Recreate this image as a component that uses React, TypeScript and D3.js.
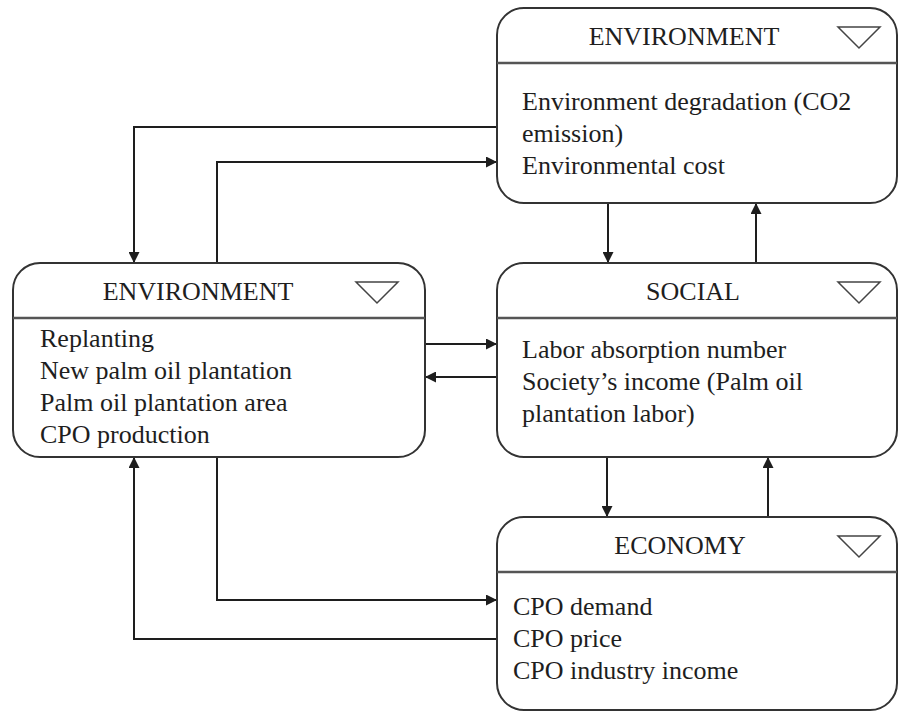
import { useEffect, useRef } from "react";
import * as d3 from "d3";

// box contents
const boxIds = ["envTop", "envLeft", "social", "economy"];
const boxTitles = ["ENVIRONMENT", "ENVIRONMENT", "SOCIAL", "ECONOMY"];
const envTopItems = ["Environment degradation (CO2", "emission)", "Environmental cost"];
const envLeftItems = ["Replanting", "New palm oil plantation", "Palm oil plantation area", "CPO production"];
const socialItems = ["Labor absorption number", "Society\u2019s income (Palm oil", "plantation labor)"];
const economyItems = ["CPO demand", "CPO price", "CPO industry income"];
const boxItems = [envTopItems, envLeftItems, socialItems, economyItems];

// links between boxes: [from, to]
const links: [string, string][] = [
  ["envTop", "envLeft"],
  ["envLeft", "envTop"],
  ["envTop", "social"],
  ["social", "envTop"],
  ["envLeft", "social"],
  ["social", "envLeft"],
  ["social", "economy"],
  ["economy", "social"],
  ["envLeft", "economy"],
  ["economy", "envLeft"],
];

// layout (pixels)
const layout: Record<string, { x: number; y: number; w: number; h: number; head: number; titleX: number; textX: number; firstLine: number; tri: number }> = {
  envTop: { x: 497, y: 8, w: 400, h: 195, head: 55, titleX: 684, textX: 522, firstLine: 110, tri: 838 },
  envLeft: { x: 13, y: 263, w: 412, h: 194, head: 55, titleX: 198, textX: 40, firstLine: 347, tri: 356 },
  social: { x: 497, y: 263, w: 400, h: 194, head: 55, titleX: 693, textX: 522, firstLine: 358, tri: 838 },
  economy: { x: 497, y: 517, w: 400, h: 193, head: 55, titleX: 680, textX: 513, firstLine: 615, tri: 838 },
};

const routes: Record<string, [number, number][]> = {
  "envTop>envLeft": [[497, 127], [134, 127], [134, 263]],
  "envLeft>envTop": [[217, 263], [217, 162], [497, 162]],
  "envTop>social": [[608, 203], [608, 263]],
  "social>envTop": [[756, 263], [756, 203]],
  "envLeft>social": [[425, 344], [497, 344]],
  "social>envLeft": [[497, 377], [425, 377]],
  "social>economy": [[607, 457], [607, 517]],
  "economy>social": [[768, 517], [768, 457]],
  "envLeft>economy": [[217, 457], [217, 600], [497, 600]],
  "economy>envLeft": [[497, 639], [134, 639], [134, 457]],
};

const App = () => {
  const ref = useRef<SVGSVGElement>(null);

  useEffect(() => {
    const svg = d3.select(ref.current);
    svg.selectAll("*").remove();
    const font = "'Liberation Serif', 'Times New Roman', serif";
    const ink = "#1e1e1e";

    svg
      .append("defs")
      .append("marker")
      .attr("id", "arrow")
      .attr("viewBox", "0 0 10 10")
      .attr("refX", 10)
      .attr("refY", 5)
      .attr("markerWidth", 13)
      .attr("markerHeight", 11)
      .attr("markerUnits", "userSpaceOnUse")
      .attr("orient", "auto")
      .append("path")
      .attr("d", "M0,0L10,5L0,10Z")
      .attr("fill", ink);

    const line = d3.line();

    svg
      .append("g")
      .selectAll("path")
      .data(links)
      .enter()
      .append("path")
      .attr("d", (d) => line(routes[d[0] + ">" + d[1]]))
      .attr("fill", "none")
      .attr("stroke", ink)
      .attr("stroke-width", 2)
      .attr("marker-end", "url(#arrow)");

    const boxes = svg
      .append("g")
      .selectAll("g")
      .data(boxIds)
      .enter()
      .append("g");

    boxes
      .append("rect")
      .attr("x", (d) => layout[d].x)
      .attr("y", (d) => layout[d].y)
      .attr("width", (d) => layout[d].w)
      .attr("height", (d) => layout[d].h)
      .attr("rx", 27)
      .attr("fill", "#fff")
      .attr("stroke", "#333")
      .attr("stroke-width", 2);

    boxes
      .append("line")
      .attr("x1", (d) => layout[d].x)
      .attr("x2", (d) => layout[d].x + layout[d].w)
      .attr("y1", (d) => layout[d].y + layout[d].head)
      .attr("y2", (d) => layout[d].y + layout[d].head)
      .attr("stroke", "#555")
      .attr("stroke-width", 2.5);

    boxes
      .append("text")
      .attr("x", (d) => layout[d].titleX)
      .attr("y", (d) => layout[d].y + 37)
      .attr("text-anchor", "middle")
      .attr("font-family", font)
      .attr("font-size", 26)
      .attr("fill", ink)
      .text((d, i) => boxTitles[i]);

    boxes
      .append("path")
      .attr("d", (d) => {
        const t = layout[d].tri;
        const y = layout[d].y + 19;
        return `M${t},${y}L${t + 42},${y}L${t + 21},${y + 21}Z`;
      })
      .attr("fill", "none")
      .attr("stroke", "#444")
      .attr("stroke-width", 1.5);

    boxes.each(function (d, i) {
      d3.select(this)
        .append("g")
        .selectAll("text")
        .data(boxItems[i])
        .enter()
        .append("text")
        .attr("x", layout[d].textX)
        .attr("y", (_, j) => layout[d].firstLine + j * 32)
        .attr("font-family", font)
        .attr("font-size", 26)
        .attr("fill", ink)
        .text((t) => t);
    });
  }, []);

  return (
    <svg
      ref={ref}
      width={898}
      height={711}
      style={{ position: "absolute", left: 0, top: 0, background: "#fff" }}
    />
  );
};

export default App;
